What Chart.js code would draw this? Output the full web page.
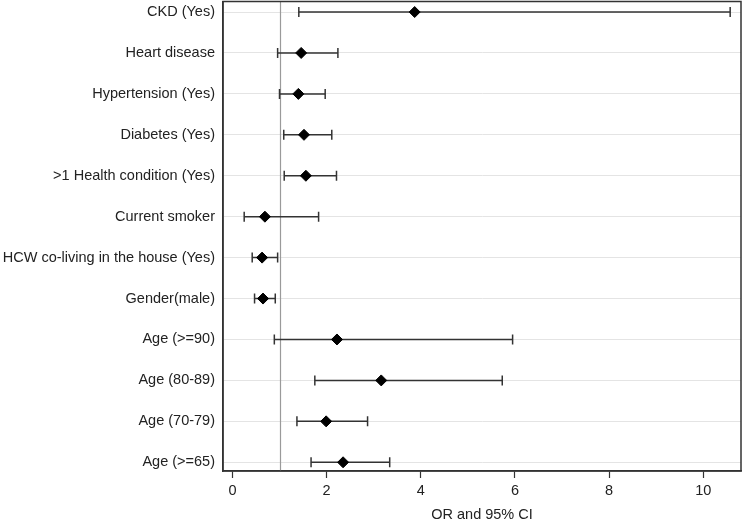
<!DOCTYPE html>
<html>
<head>
<meta charset="utf-8">
<script src="https://cdn.jsdelivr.net/npm/chart.js@4/dist/chart.umd.min.js"></script>
<style>
  html, body { margin: 0; padding: 0; background: #fff; }
  #wrap { width: 749px; height: 525px; }
</style>
</head>
<body>
<div id="wrap"><canvas id="forest"></canvas></div>
<script>
// rows, top to bottom
const labels = [
  'CKD (Yes)', 'Heart disease', 'Hypertension (Yes)', 'Diabetes (Yes)',
  '>1 Health condition (Yes)', 'Current smoker', 'HCW co-living in the house (Yes)',
  'Gender(male)', 'Age (>=90)', 'Age (80-89)', 'Age (70-79)', 'Age (>=65)'
];
const oddsRatio = [3.87, 1.46, 1.40, 1.52, 1.56, 0.69, 0.63, 0.65, 2.22, 3.16, 1.99, 2.35];
const ciLow     = [1.41, 0.96, 1.00, 1.09, 1.10, 0.25, 0.42, 0.47, 0.89, 1.75, 1.37, 1.67];
const ciHigh    = [10.57, 2.24, 1.97, 2.11, 2.21, 1.83, 0.96, 0.91, 5.95, 5.73, 2.87, 3.34];
const xTicks = [0, 2, 4, 6, 8, 10];
const refValue = 1;

const rowY = labels.map((_, i) => labels.length - 1 - i);

Chart.defaults.font.family = '"Liberation Sans", Arial, sans-serif';
Chart.defaults.font.size = 14.5;
Chart.defaults.color = '#222';

const whiskers = labels.map((_, i) => ({
  type: 'line',
  data: [{ x: ciLow[i], y: rowY[i] }, { x: ciHigh[i], y: rowY[i] }],
  borderColor: '#333',
  borderWidth: 1.5,
  pointRadius: 0,
  order: 3
}));

const caps = {
  type: 'scatter',
  data: labels.flatMap((_, i) => [{ x: ciLow[i], y: rowY[i] }, { x: ciHigh[i], y: rowY[i] }]),
  pointStyle: 'line',
  rotation: 90,
  pointRadius: 5,
  borderColor: '#333',
  borderWidth: 1.5,
  order: 2
};

const diamonds = {
  type: 'scatter',
  data: labels.map((_, i) => ({ x: oddsRatio[i], y: rowY[i] })),
  pointStyle: 'rectRot',
  pointRadius: 5.5,
  backgroundColor: '#000',
  borderColor: '#000',
  borderWidth: 1,
  order: 1
};

const frame = {
  id: 'frame',
  beforeDatasetsDraw(chart) {
    const { ctx, chartArea: a, scales } = chart;
    const x = Math.round(scales.x.getPixelForValue(refValue)) + 0.5;
    ctx.save();
    ctx.strokeStyle = '#9a9a9a';
    ctx.lineWidth = 1.2;
    ctx.beginPath();
    ctx.moveTo(x, a.top);
    ctx.lineTo(x, a.bottom);
    ctx.stroke();
    ctx.restore();
  },
  afterDraw(chart) {
    const { ctx, chartArea: a } = chart;
    ctx.save();
    ctx.strokeStyle = '#333';
    ctx.lineWidth = 1.5;
    ctx.strokeRect(a.left, a.top, a.right - a.left, a.bottom - a.top);
    ctx.restore();
  }
};

new Chart(document.getElementById('forest'), {
  type: 'scatter',
  data: { datasets: [diamonds, caps, ...whiskers] },
  options: {
    responsive: true,
    maintainAspectRatio: false,
    animation: false,
    layout: { autoPadding: false, padding: { top: 1.5, right: 8, bottom: 1, left: 0 } },
    plugins: { legend: { display: false }, tooltip: { enabled: false } },
    scales: {
      x: {
        type: 'linear',
        min: -0.2,
        max: 10.8,
        afterBuildTicks: s => { s.ticks = xTicks.map(v => ({ value: v })); },
        afterFit: s => { s.height = 53; s.paddingLeft = 0; s.paddingRight = 0; },
        grid: { display: true, drawOnChartArea: false, drawTicks: true, tickLength: 7, tickColor: '#333', tickWidth: 1.2 },
        border: { display: true, color: '#333', width: 1.5 },
        ticks: { padding: 4, color: '#222' },
        title: { display: true, text: 'OR and 95% CI', color: '#222', padding: 0 }
      },
      y: {
        type: 'linear',
        min: -0.213,
        max: 11.257,
        afterBuildTicks: s => { s.ticks = rowY.map(v => ({ value: v })); },
        afterFit: s => { s.width = 223; s.paddingTop = 0; s.paddingBottom = 0; },
        grid: { color: '#e4e4e4', lineWidth: 1, drawTicks: false },
        border: { display: true, color: '#333', width: 1.5 },
        ticks: {
          padding: 8,
          color: '#222',
          callback: v => labels[labels.length - 1 - v]
        }
      }
    }
  },
  plugins: [frame]
});
</script>
</body>
</html>
